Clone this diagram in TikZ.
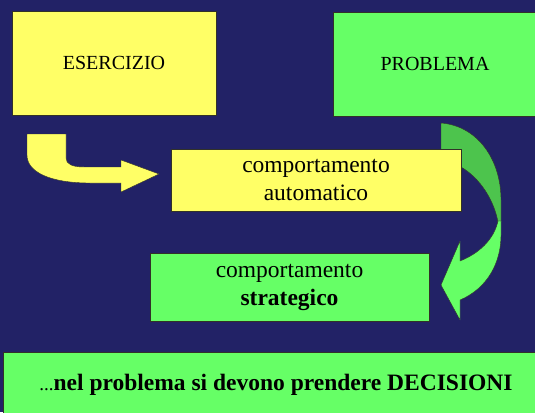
\documentclass[tikz,border=0pt]{standalone}
\usepackage{fontspec}
\setmainfont{Liberation Serif}
\definecolor{navy}{RGB}{34,34,102}
\definecolor{ylw}{RGB}{255,255,102}
\definecolor{grn}{RGB}{102,255,102}
\definecolor{dgrn}{RGB}{77,196,77}
\definecolor{edge}{RGB}{50,50,40}
\tikzset{
  box/.style={draw=edge, line width=0.6pt, inner sep=0pt, align=center},
  ybox/.style={box, fill=ylw},
  gbox/.style={box, fill=grn},
  big/.style={font=\fontsize{23.5}{28}\selectfont},
  med/.style={font=\fontsize{20}{24}\selectfont},
  arr/.style={draw=edge, line width=0.4pt, line join=round}
}
\begin{document}
\begin{tikzpicture}[x=1pt,y=-1pt]
\useasboundingbox (0,0) rectangle (535,412);
\clip (0,0) rectangle (535,412);
\fill[navy] (0,0) rectangle (535,412);
% boxes
\node[ybox, med, minimum width=204pt, minimum height=104pt] (es) at (114,63) {ESERCIZIO};
\node[gbox, med, minimum width=204pt, minimum height=104pt] (pr) at (435,64) {PROBLEMA};
% green curved arrow, back part
\fill[dgrn, arr] (441,123) .. controls (478,126) and (501,160) .. (501,200) -- (501,222)
  -- (498,222) .. controls (494,200) and (480,178) .. (461,167) -- (441,160) -- cycle;
\node[ybox, big, minimum width=290pt, minimum height=62pt] (aut) at (316,180) {comportamento\\automatico};
% green curved arrow, front part
\fill[grn, arr] (498,221) -- (501,221) -- (501,235) .. controls (501,262) and (488,288) .. (460,300)
  -- (460,320) -- (441,285) -- (460,241) -- (460,261)
  .. controls (478,254) and (494,240) .. (498,221) -- cycle;
\node[gbox, big, minimum width=279pt, minimum height=68pt] (str) at (289.5,287) {comportamento\\\textbf{strategico}};
% yellow bent arrow
\fill[ylw, arr] (27,134) -- (66,134) -- (66,158) .. controls (66,164) and (72,167) .. (84,167)
  -- (121,167) -- (121,160) -- (159,174) -- (121,192) -- (121,183) -- (90,183)
  .. controls (50,183) and (27,172) .. (27,155) -- cycle;
% bottom banner
\node[gbox, minimum width=546pt, minimum height=62pt] (bot) at (276,383) {};
\node[big, inner sep=0pt] (msg) at (276,385) {{\fontsize{19}{22}\selectfont ...}\textbf{nel problema si devono prendere DECISIONI}};
\end{tikzpicture}
\end{document}
